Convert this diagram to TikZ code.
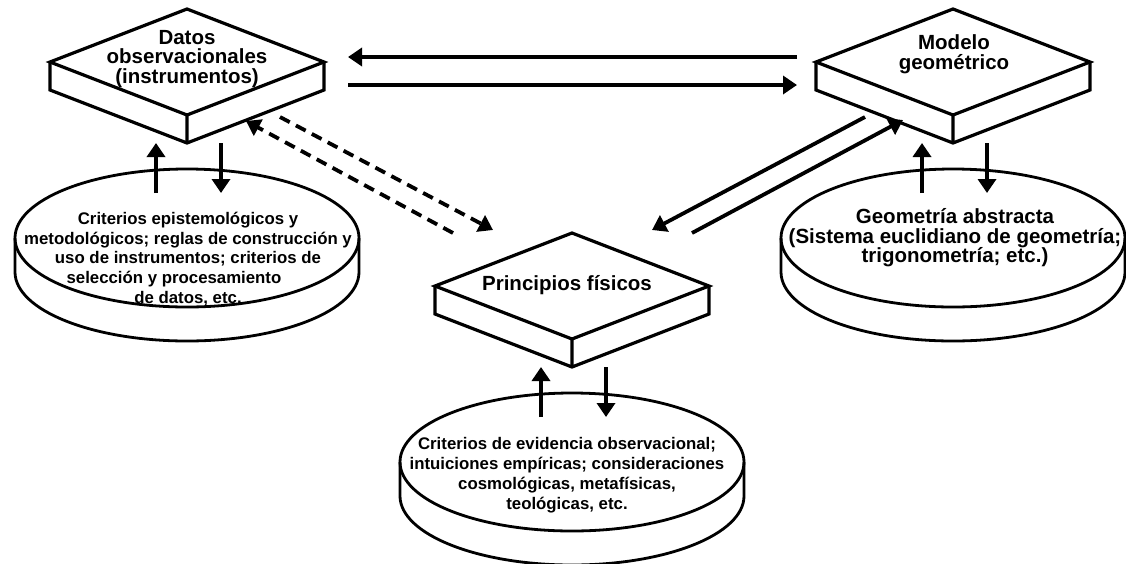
\documentclass[tikz,border=0pt]{standalone}
\usepackage{fontspec}
\setmainfont{Liberation Sans}
\usetikzlibrary{arrows.meta}

\begin{document}
\begin{tikzpicture}[x=1pt, y=-1pt,
	flecha/.style={line width=3.8pt, -{Triangle[length=14pt, width=18pt]}},
	rayas/.style={flecha, dash pattern=on 11pt off 7pt},
	titulo/.style={align=center, font=\fontsize{20.5}{19.5}\selectfont\bfseries},
	criterio/.style={align=center, font=\fontsize{16.8}{19.8}\selectfont\bfseries},
	losa/.pic={
		\draw[line width=3.2pt, fill=white] (-137,0) -- (0,-53) -- (137,0) -- (0,53) -- cycle;
		\draw[line width=3.2pt] (-137,0) -- (-137,28) -- (0,81) -- (137,28) -- (137,0) (0,53) -- (0,81);
		\coordinate (-sube) at (-31,81);
		\coordinate (-baja) at (34,81);
	},
	disco/.pic={
		\draw[line width=2.8pt, fill=white] (-172,0) -- (-172,34) arc[start angle=180, end angle=0, x radius=172, y radius=69] -- (172,0);
		\draw[line width=2.8pt] (0,0) ellipse [x radius=172, y radius=69];
		\coordinate (-sube) at (-31,-45);
		\coordinate (-baja) at (34,-45);
	}]
	\useasboundingbox (0,0) rectangle (1126,563);

	\pic (c1) at (187,238) {disco};
	\pic (geo) at (953,238) {disco};
	\pic (c2) at (572,462) {disco};

	\pic (datos) at (187,62) {losa};
	\pic (modelo) at (953,62) {losa};
	\pic (fis) at (572,286) {losa};

	\node [titulo] (tdatos) at (187,59) {Datos \\ observacionales \\ (instrumentos)};
	\node [titulo] (tmodelo) at (954,54) {Modelo \\ geométrico};
	\node [titulo] (tfis) at (567,285) {Principios físicos};
	\node [criterio] (tc1) at (188,259) {Criterios epistemológicos y \\ metodológicos; reglas de construcción y \\ uso de instrumentos; criterios de \\ selección y procesamiento\hspace*{28pt} \\ de datos, etc.};
	\node [titulo] (tgeo) at (955,238) {Geometría abstracta \\ (Sistema euclidiano de geometría; \\ trigonometría; etc.)};
	\node [criterio] (tc2) at (567,475) {Criterios de evidencia observacional; \\ intuiciones empíricas; consideraciones \\ cosmológicas, metafísicas, \\ teológicas, etc.};

	\coordinate (d1) at (348,57);
	\coordinate (m1) at (797,57);
	\coordinate (d2) at (348,85);
	\coordinate (m2) at (797,85);
	\coordinate (d3) at (280,117);
	\coordinate (f3) at (493,230);
	\coordinate (f4) at (453,233);
	\coordinate (d4) at (246,121);
	\coordinate (m5) at (865,117);
	\coordinate (f5) at (652,230);
	\coordinate (f6) at (692,233);
	\coordinate (m6) at (903,120);

	\draw [flecha] (m1) -- (d1);
	\draw [flecha] (d2) -- (m2);
	\draw [rayas] (d3) -- (f3);
	\draw [rayas] (f4) -- (d4);
	\draw [flecha] (m5) -- (f5);
	\draw [flecha] (f6) -- (m6);

	\draw [flecha] (c1-sube) -- (datos-sube);
	\draw [flecha] (datos-baja) -- (c1-baja);
	\draw [flecha] (geo-sube) -- (modelo-sube);
	\draw [flecha] (modelo-baja) -- (geo-baja);
	\draw [flecha] (c2-sube) -- (fis-sube);
	\draw [flecha] (fis-baja) -- (c2-baja);
\end{tikzpicture}
\end{document}
